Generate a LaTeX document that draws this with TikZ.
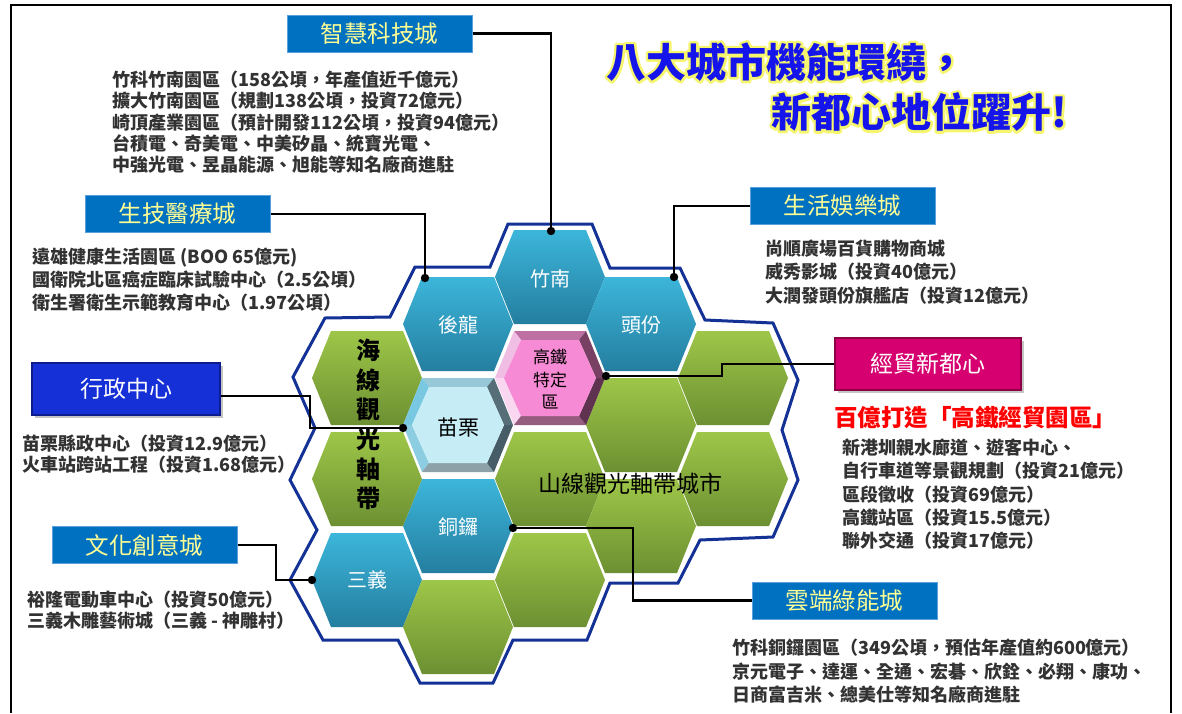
\documentclass[tikz,border=0pt]{standalone}
\usepackage{fontspec}
\setmainfont{Noto Sans CJK TC}
\newfontfamily\cjk{Noto Sans CJK TC}
\usetikzlibrary{shadows}
\definecolor{boxblue}{RGB}{0,112,192}
\definecolor{boxedge}{RGB}{90,160,220}
\definecolor{boxtext}{RGB}{255,255,150}
\definecolor{admblue}{RGB}{22,48,215}
\definecolor{admedge}{RGB}{12,28,140}
\definecolor{magen}{RGB}{214,0,112}
\definecolor{magedge}{RGB}{140,0,70}
\definecolor{bodytext}{RGB}{50,50,50}
\definecolor{outl}{RGB}{20,50,150}
\definecolor{hbT}{RGB}{60,182,218}
\definecolor{hbB}{RGB}{36,126,160}
\definecolor{hgT}{RGB}{158,198,72}
\definecolor{hgB}{RGB}{108,144,50}
\definecolor{titleblue}{RGB}{20,20,235}
\definecolor{glow}{RGB}{245,245,110}
% bevel colours: miaoli (cyan) and hsr (pink)
\definecolor{mlF}{RGB}{198,236,246}
\definecolor{mlT}{RGB}{150,200,215}
\definecolor{mlUL}{RGB}{120,200,225}
\definecolor{mlLL}{RGB}{140,205,225}
\definecolor{mlB}{RGB}{140,162,168}
\definecolor{mlLR}{RGB}{70,92,102}
\definecolor{mlUR}{RGB}{85,110,120}
\definecolor{gtF}{RGB}{246,138,212}
\definecolor{gtT}{RGB}{190,112,165}
\definecolor{gtUL}{RGB}{240,190,228}
\definecolor{gtLL}{RGB}{250,215,240}
\definecolor{gtB}{RGB}{150,92,128}
\definecolor{gtLR}{RGB}{95,50,80}
\definecolor{gtUR}{RGB}{120,65,100}
\newcommand\hexp[5]{(#1-#3,#2) -- (#1-#4,#2-#5) -- (#1+#4,#2-#5) -- (#1+#3,#2) -- (#1+#4,#2+#5) -- (#1-#4,#2+#5) -- cycle}
% cx cy prefix
\newcommand\bevelhex[3]{%
  \begin{scope}[shift={(#1,#2)}]
    \fill[#3T] (-36,-47) -- (36,-47) -- (29,-38) -- (-29,-38) -- cycle;
    \fill[#3UL] (-55,0) -- (-36,-47) -- (-29,-38) -- (-46,0) -- cycle;
    \fill[#3LL] (-36,47) -- (-55,0) -- (-46,0) -- (-29,38) -- cycle;
    \fill[#3B] (36,47) -- (-36,47) -- (-29,38) -- (29,38) -- cycle;
    \fill[#3LR] (55,0) -- (36,47) -- (29,38) -- (46,0) -- cycle;
    \fill[#3UR] (36,-47) -- (55,0) -- (46,0) -- (29,-38) -- cycle;
    \fill[#3F] (-46,0) -- (-29,-38) -- (29,-38) -- (46,0) -- (29,38) -- (-29,38) -- cycle;
  \end{scope}}
% yellow glow: stroke+fill text render mode
\newcommand\glowon{\special{pdf:literal direct 2 Tr 5 w 1 j 0.96 0.96 0.43 RG}}
\newcommand\glowoff{\special{pdf:literal direct 0 Tr}}
\tikzset{
  conn/.style={line width=2.5pt, black},
  dot/.style={black},
  cityblue/.style={fill=boxblue, draw=boxedge, line width=1pt, minimum width=185pt, minimum height=37pt, inner sep=0pt, text=boxtext, font=\cjk\fontsize{23.5}{23.5}\selectfont},
  bodyline/.style={anchor=west, inner sep=0pt, text=bodytext, font=\cjk\bfseries\fontsize{18}{18}\selectfont},
  hexw/.style={text=white, inner sep=0pt, font=\cjk\fontsize{20}{20}\selectfont},
  hexk/.style={text=black, inner sep=0pt, font=\cjk\fontsize{20}{20}\selectfont},
  titlef/.style={anchor=west, inner sep=0pt, font=\cjk\bfseries\fontsize{40}{40}\selectfont},
}
\begin{document}
\begin{tikzpicture}[x=1pt,y=-1pt]
\useasboundingbox (0,0) rectangle (1182,713);
\fill[white] (0,0) rectangle (1182,713);
% frame
\draw[line width=2pt] (11,713) -- (11,5) -- (1171,5) -- (1171,713);

% cluster outline
\draw[outl, line width=3pt, line join=miter]
  (508,224) -- (592,224) -- (610,268) -- (680,268) -- (705,320) -- (773,323)
  -- (798,380) -- (782,430) -- (798,480) -- (773,537) -- (700,540) -- (678,583)
  -- (610,583) -- (587,640) -- (513,640) -- (493,683) -- (420,683) -- (398,640)
  -- (323,640) -- (290,580) -- (317,530) -- (290,480) -- (315,428) -- (293,377)
  -- (325,318) -- (390,317) -- (415,267) -- (490,267) -- cycle;

% blue hexes
\foreach \cx/\cy in {367/580,458/324,458/526,550/277,641/324}
  \shade[top color=hbT, bottom color=hbB] \hexp{\cx}{\cy}{55}{36}{47};
% green hexes
\foreach \cx/\cy in {367/378,367/479,458/627,550/479,550/580,641/425,641/526,733/378,733/479}
  \shade[top color=hgT, bottom color=hgB] \hexp{\cx}{\cy}{55}{36}{47};
% bevel hexes
\bevelhex{458}{425}{ml}
\bevelhex{550}{378}{gt}

% hex labels
\node[hexw] (lZN) at (550,279) {竹南};
\node[hexw] (lHL) at (458,325) {後龍};
\node[hexw] (lTF) at (641,325) {頭份};
\node[hexw] (lTL) at (458,527) {銅鑼};
\node[hexw] (lSY) at (367,580) {三義};
\node[hexk, font=\cjk\fontsize{21}{21}\selectfont] (lML) at (458,428) {苗栗};
\node[hexk, font=\cjk\fontsize{17}{17}\selectfont] (lGT1) at (550,357) {高鐵};
\node[hexk, font=\cjk\fontsize{17}{17}\selectfont] (lGT2) at (550,380) {特定};
\node[hexk, font=\cjk\fontsize{17}{17}\selectfont] (lGT3) at (550,402) {區};
\foreach \c [count=\i] in {海,線,觀,光,軸,帶}
  \node[hexk, font=\cjk\bfseries\fontsize{24}{24}\selectfont] (lHX\i) at (368,321+29.6*\i) {\c};
\node[hexk, font=\cjk\fontsize{23}{23}\selectfont] (lSX) at (630,484) {山線觀光軸帶城市};

% connection points on hexes and bends
\coordinate (dZN) at (551,231);
\coordinate (dHL) at (425,278);
\coordinate (dTF) at (674,277);
\coordinate (dGT) at (606,376);
\coordinate (dML) at (403,428);
\coordinate (dTL) at (513,528);
\coordinate (dSY) at (312,580);
\coordinate (kXZ) at (310,428);
\coordinate (kJM) at (722,376);
\coordinate (kWH) at (276,580);
\coordinate (kYD) at (633,528);

% boxes
\node[cityblue] (bZH) at (379.5,33.5) {智慧科技城};
\node[cityblue] (bSJ) at (177.5,214) {生技醫療城};
\node[cityblue] (bSH) at (842.5,206) {生活娛樂城};
\node[cityblue] (bWH) at (144.5,545) {文化創意城};
\node[cityblue] (bYD) at (844.5,600.5) {雲端綠能城};
\node[fill=admblue, draw=admedge, line width=2.5pt, minimum width=188pt, minimum height=52pt, inner sep=0pt, text=white,
  font=\cjk\fontsize{23}{23}\selectfont, drop shadow={opacity=0.45, shadow xshift=3pt, shadow yshift=-3pt}] (bXZ) at (126,389) {行政中心};
\node[fill=magen, draw=magedge, line width=2.5pt, minimum width=186pt, minimum height=52pt, inner sep=0pt, text=white,
  font=\cjk\fontsize{23}{23}\selectfont, drop shadow={opacity=0.45, shadow xshift=3pt, shadow yshift=-3pt}] (bJM) at (928,364) {經貿新都心};

% connectors
\draw[conn] (bZH.east) -| (dZN);
\draw[conn] (bSJ.east) -| (dHL);
\draw[conn] (bSH.west) -| (dTF);
\draw[conn] ([yshift=-7pt]bXZ.east) -| (kXZ) -- (dML);
\draw[conn] (bJM.west) -| (kJM) -- (dGT);
\draw[conn] (bWH.east) -| (kWH) -- (dSY);
\draw[conn] (bYD.west) -| (kYD) -- (dTL);
\foreach \d in {dZN,dHL,dTF,dGT,dML,dTL,dSY}
  \fill[dot] (\d) circle (4.2);

% text blocks
\foreach \t [count=\i] in {竹科竹南園區（158公頃，年產值近千億元）,擴大竹南園區（規劃138公頃，投資72億元）,崎頂產業園區（預計開發112公頃，投資94億元）,台積電、奇美電、中美矽晶、統寶光電、,中強光電、昱晶能源、旭能等知名廠商進駐}
  \node[bodyline] (tZH\i) at (112,58.5+21.3*\i) {\t};
\foreach \t [count=\i] in {遠雄健康生活園區 (BOO 65億元),國衛院北區癌症臨床試驗中心（2.5公頃）,衛生署衛生示範教育中心（1.97公頃）}
  \node[bodyline] (tSJ\i) at (32,235+22.5*\i) {\t};
\foreach \t [count=\i] in {尚順廣場百貨購物商城,威秀影城（投資40億元）,大潤發頭份旗艦店（投資12億元）}
  \node[bodyline] (tSH\i) at (765,225+23.5*\i) {\t};
\foreach \t [count=\i] in {苗栗縣政中心（投資12.9億元）,火車站跨站工程（投資1.68億元）}
  \node[bodyline] (tXZ\i) at (22,423+21*\i) {\t};
\node[anchor=west, inner sep=0pt, text=red, font=\cjk\bfseries\fontsize{23.5}{23.5}\selectfont] (tJM0) at (834,418) {百億打造「高鐵經貿園區」};
\foreach \t [count=\i] in {新港圳親水廊道、遊客中心、,自行車道等景觀規劃（投資21億元）,區段徵收（投資69億元）,高鐵站區（投資15.5億元）,聯外交通（投資17億元）}
  \node[bodyline] (tJM\i) at (842,424.5+23.2*\i) {\t};
\foreach \t [count=\i] in {裕隆電動車中心（投資50億元）,三義木雕藝術城（三義 - 神雕村）}
  \node[bodyline] (tWH\i) at (27,579+21*\i) {\t};
\foreach \t [count=\i] in {竹科銅鑼園區（349公頃，預估年產值約600億元）,京元電子、達運、全通、宏碁、欣銓、必翔、康功、,日商富吉米、總美仕等知名廠商進駐}
  \node[bodyline] (tYD\i) at (732,624.5+23.5*\i) {\t};

% title: yellow outlined copy underneath, blue text on top
\node[titlef, text=glow] (gA) at (606,62) {\glowon 八大城市機能環繞，\glowoff};
\node[titlef, text=glow] (gB) at (771,112) {\glowon 新都心地位躍升!\glowoff};
\node[titlef, text=titleblue] (title1) at (606,62) {八大城市機能環繞，};
\node[titlef, text=titleblue] (title2) at (771,112) {新都心地位躍升!};
\end{tikzpicture}
\end{document}
